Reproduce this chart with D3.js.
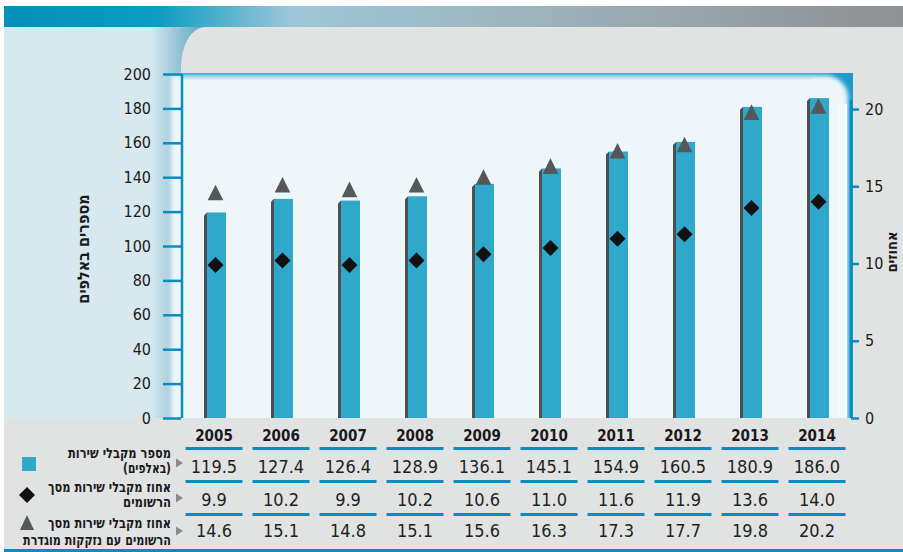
<!DOCTYPE html>
<html><head><meta charset="utf-8">
<script src="https://cdn.jsdelivr.net/npm/d3@7/dist/d3.min.js"></script>
<style>body{margin:0;background:#fff;} svg{display:block}</style>
</head><body><svg id="c" width="903" height="552"></svg>
<script>
const years = [2005, 2006, 2007, 2008, 2009, 2010, 2011, 2012, 2013, 2014];
const recipients = [119.5, 127.4, 126.4, 128.9, 136.1, 145.1, 154.9, 160.5, 180.9, 186.0];
const pctRegistered = [9.9, 10.2, 9.9, 10.2, 10.6, 11.0, 11.6, 11.9, 13.6, 14.0];
const pctNeeds = [14.6, 15.1, 14.8, 15.1, 15.6, 16.3, 17.3, 17.7, 19.8, 20.2];
const leftTicks = [0, 20, 40, 60, 80, 100, 120, 140, 160, 180, 200];
const rightTicks = [0, 5, 10, 15, 20];
const leftTitle = "מספרים באלפים";
const rightTitle = "אחוזים";
const rowLabels = [
  ["מספר מקבלי שירות", "(באלפים)"],
  ["אחוז מקבלי שירות מסך", "הרשומים"],
  ["אחוז מקבלי שירות מסך", "הרשומים עם נזקקות מוגדרת"]
];

const FONT = "'DejaVu Sans Condensed', 'DejaVu Sans', sans-serif";
const BLUE = "#0a8cc0", BAR = "#2fa8cc", SHADOW = "#4b5053", DIAM = "#111111", TRI = "#555759";
const L = 181, R = 852, T = 74, B = 418;

const svg = d3.select("#c");
const defs = svg.append("defs");
function lin(id, x1, y1, x2, y2, stops) {
  const g = defs.append("linearGradient").attr("id", id).attr("gradientUnits", "userSpaceOnUse")
    .attr("x1", x1).attr("y1", y1).attr("x2", x2).attr("y2", y2);
  stops.forEach(s => g.append("stop").attr("offset", s[0]).attr("stop-color", s[1]));
}
lin("band", 4, 0, 903, 0, [[0, "#0090b8"], [0.17, "#0a9cc2"], [0.32, "#9dc7d9"], [0.6, "#9cb3bb"], [1, "#8f9091"]]);
lin("strip", 150, 0, 206, 0, [[0, "#d7e9ee"], [0.55, "#8fc0d5"], [1, "#4ea6c8"]]);
lin("topfade", 0, 75, 0, 80, [[0, "#7fcbe3"], [1, "#eef6f9"]]);
defs.append("filter").attr("id", "soft").attr("x", "-5%").attr("y", "-5%").attr("width", "110%").attr("height", "110%")
  .append("feGaussianBlur").attr("stdDeviation", 2.2);

// backgrounds
svg.append("rect").attr("x", 4).attr("y", 27).attr("width", 899).attr("height", 525).attr("fill", "#e1e3e3");
svg.append("rect").attr("x", 4).attr("y", 27).attr("width", 177).attr("height", B - 27).attr("fill", "#d7e9ee");
svg.append("rect").attr("x", 150).attr("y", 27).attr("width", 56).attr("height", B - 27).attr("fill", "url(#strip)");
svg.append("path").attr("d", `M${L},${T} L${L},67 A24,40 0 0 1 205,27 L903,27 L903,${T} Z`).attr("fill", "#e1e3e3");
svg.append("rect").attr("x", 4).attr("y", 6).attr("width", 899).attr("height", 21).attr("fill", "url(#band)");

// plot frame
svg.append("rect").attr("x", L).attr("y", 73).attr("width", R - L + 1).attr("height", B - 73).attr("fill", "#1a9ccb");
svg.append("path").attr("d", `M${L - 10},75.5 L826,75.5 A22,22 0 0 1 848,97.5 L848,${B + 10} L${L - 10},${B + 10} Z`)
  .attr("fill", "#eef6f9").attr("filter", "url(#soft)");
svg.append("rect").attr("x", L).attr("y", 75.5).attr("width", 630).attr("height", 4.5).attr("fill", "url(#topfade)");
svg.append("rect").attr("x", 838).attr("y", 104).attr("width", 9).attr("height", B - 104).attr("fill", "#f4fafc");
svg.append("rect").attr("x", 4).attr("y", B).attr("width", 899).attr("height", 131).attr("fill", "#e1e3e3");

// scales
const x = d3.scalePoint().domain(years).range([216.5, 819.5]);
const yL = d3.scaleLinear().domain([0, 200]).range([B, T]);
const yR = d3.scaleLinear().domain([0, 20]).range([B, 109]);
const bw = 19;

// bars
const bars = svg.append("g");
years.forEach((yr, i) => {
  const cx = x(yr), top = yL(recipients[i]), x0 = cx - bw / 2;
  bars.append("path").attr("d", `M${x0 - 3},${top + 3} L${x0},${top} L${x0},${B} L${x0 - 3},${B} Z`).attr("fill", SHADOW);
  bars.append("rect").attr("x", x0).attr("y", top).attr("width", bw).attr("height", B - top).attr("fill", BAR);
});

// markers
const mk = svg.append("g");
years.forEach((yr, i) => {
  const cx = x(yr) - 1;
  const ty = yR(pctNeeds[i]), h = 7.8;
  mk.append("path").attr("d", `M${cx - h},${ty + h} L${cx + h},${ty + h} L${cx},${ty - h} Z`).attr("fill", TRI);
  const dy = yR(pctRegistered[i]), d = 8;
  mk.append("path").attr("d", `M${cx},${dy - d} L${cx + d},${dy} L${cx},${dy + d} L${cx - d},${dy} Z`).attr("fill", DIAM);
});

// axes
const axL = svg.append("g").attr("transform", `translate(${L},0)`)
  .call(d3.axisLeft(yL).tickValues(leftTicks).tickSize(18).tickPadding(12));
axL.select(".domain").remove();
axL.selectAll(".tick line").attr("stroke", BLUE).attr("stroke-width", 2.5);
axL.selectAll(".tick text").attr("font-family", FONT).attr("font-size", 16).attr("fill", "#1a1a1a");
svg.append("line").attr("x1", L + 1).attr("x2", L + 1).attr("y1", T).attr("y2", B).attr("stroke", BLUE).attr("stroke-width", 2.5);

const axR = svg.append("g").attr("transform", `translate(${R - 1},0)`)
  .call(d3.axisRight(yR).tickValues(rightTicks).tickSize(8).tickPadding(6));
axR.select(".domain").remove();
axR.selectAll(".tick line").attr("stroke", BLUE).attr("stroke-width", 2.5);
axR.selectAll(".tick text").attr("font-family", FONT).attr("font-size", 16).attr("fill", "#1a1a1a");
svg.append("line").attr("x1", R - 1).attr("x2", R - 1).attr("y1", 100).attr("y2", B).attr("stroke", BLUE).attr("stroke-width", 2.5);

// axis titles
svg.append("text").attr("transform", `translate(88.5,249) rotate(-90)`).attr("text-anchor", "middle")
  .attr("font-family", FONT).attr("font-weight", "bold").attr("font-size", 16).attr("fill", "#1a1a1a").text(leftTitle);
svg.append("text").attr("transform", `translate(897,252) rotate(-90)`).attr("text-anchor", "middle")
  .attr("font-family", FONT).attr("font-weight", "bold").attr("font-size", 14.5).attr("fill", "#1a1a1a").text(rightTitle);

// table
const tbl = svg.append("g");
const col = yr => x(yr) - 2.5;
const lineYs = [448.5, 481.5, 514.5];
years.forEach((yr, i) => {
  const c = col(yr);
  tbl.append("text").attr("x", c).attr("y", 441).attr("text-anchor", "middle").attr("font-family", FONT)
    .attr("font-weight", "bold").attr("font-size", 15).attr("fill", "#1a1a1a").text(yr);
  lineYs.forEach(ly => tbl.append("line").attr("x1", c - 28.5).attr("x2", c + 28.5).attr("y1", ly).attr("y2", ly)
    .attr("stroke", BLUE).attr("stroke-width", 3));
  [[recipients, 473], [pctRegistered, 506], [pctNeeds, 537]].forEach(([arr, by]) =>
    tbl.append("text").attr("x", c).attr("y", by).attr("text-anchor", "middle").attr("font-family", FONT)
      .attr("font-size", 18).attr("fill", "#222").text(arr[i].toFixed(1)));
});
svg.append("rect").attr("x", 4).attr("y", 549).attr("width", 899).attr("height", 3.5).attr("fill", BLUE);

// legend
const lineBase = [[458, 473], [492, 507], [528, 545]];
const lineLen = [[103, 48], [123, 48], [123, 148]];
const arrowY = [463, 498, 531];
rowLabels.forEach((lines, r) => {
  lines.forEach((t, k) => tbl.append("text").attr("x", 171).attr("y", lineBase[r][k]).attr("text-anchor", "end")
    .attr("font-family", FONT).attr("font-weight", "bold").attr("font-size", 14).attr("fill", "#1a1a1a")
    .attr("textLength", lineLen[r][k]).attr("lengthAdjust", "spacingAndGlyphs").text(t));
  const ay = arrowY[r];
  tbl.append("path").attr("d", `M176,${ay - 4.5} L183,${ay} L176,${ay + 4.5} Z`).attr("fill", "#8a8a8a");
});
tbl.append("rect").attr("x", 22).attr("y", 457).attr("width", 14).attr("height", 14).attr("fill", BAR);
tbl.append("path").attr("d", "M27,487 L35,495 L27,503 L19,495 Z").attr("fill", DIAM);
tbl.append("path").attr("d", "M20,530 L34,530 L27,515 Z").attr("fill", TRI);
</script></body></html>
